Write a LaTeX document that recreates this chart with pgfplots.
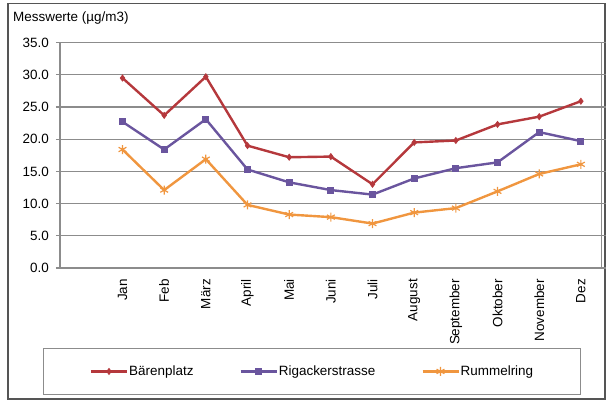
\documentclass[border=0pt]{standalone}
\usepackage{pgfplots}
\pgfplotsset{compat=1.18}
\usepackage{fontspec}
\setmainfont{Liberation Sans}

\definecolor{baeren}{HTML}{B5383C}
\definecolor{rigacker}{HTML}{6A559E}
\definecolor{rummel}{HTML}{F0963F}
\definecolor{gridgray}{HTML}{8C8C8C}
\definecolor{framegray}{HTML}{555555}

% Monatsmittel pro Messstation (Index 0 = Jan ... 11 = Dez)
\pgfplotstableread{
m   baeren  rigacker  rummel
0   29.5    22.7      18.4
1   23.7    18.4      12.1
2   29.7    23.1      16.9
3   19.0    15.3       9.8
4   17.2    13.3       8.3
5   17.3    12.1       7.9
6   13.0    11.4       6.9
7   19.5    13.9       8.6
8   19.8    15.5       9.3
9   22.3    16.4      11.9
10  23.5    21.1      14.6
11  25.9    19.7      16.1
}\messwerte

\begin{document}
\begin{tikzpicture}
\useasboundingbox (-60bp,-133bp) rectangle (546bp,268bp);
% Rahmen um die ganze Grafik
\draw[framegray, line width=1.5bp] (-52bp,264.5bp) rectangle (545bp,-131bp);
\begin{axis}[
  at={(0bp,0bp)}, anchor=south west,
  scale only axis,
  width=541.7bp, height=225.4bp,
  xmin=-1.5, xmax=11.5,
  ymin=0, ymax=35,
  ytick={0,5,...,35},
  xtick={0,...,11},
  xticklabels={Jan,Feb,März,April,Mai,Juni,Juli,August,September,Oktober,November,Dez},
  xticklabel style={rotate=90, anchor=east, inner sep=0pt},
  xticklabel shift=7bp,
  x tick style={draw=none},
  yticklabel style={inner sep=0pt},
  yticklabel shift=7bp,
  y tick style={gridgray, line width=1.2bp},
  tick align=outside,
  major tick length=4bp,
  ymajorgrids,
  major grid style={gridgray, line width=1.2bp},
  axis line style={gridgray, line width=1.2bp},
  ticklabel style={font=\fontsize{13.5}{15}\selectfont},
  /pgf/number format/.cd, fixed, fixed zerofill, precision=1, assume math mode=true,
  /pgfplots/.cd,
  clip=false,
  legend columns=3,
  legend style={
    at={(axis description cs:0.4652,-0.459)}, anchor=center,
    draw=gridgray, line width=1bp,
    inner xsep=46bp, inner ysep=16bp,
    font=\fontsize{13.5}{15}\selectfont,
    nodes={inner sep=1bp},
    /tikz/every even column/.append style={column sep=45bp},
  },
  legend image code/.code={%
    \draw[mark repeat=2, mark phase=2, #1] plot coordinates {(0bp,0bp) (18bp,0bp) (36bp,0bp)};},
  every axis plot/.append style={line width=2.4bp},
]
\addplot[baeren, mark=diamond*, mark size=3bp, mark options={line width=0.8bp}]
  table[x=m, y=baeren] {\messwerte};
\addlegendentry{Bärenplatz}
\addplot[rigacker, mark=square*, mark size=3bp, mark options={line width=0.8bp}]
  table[x=m, y=rigacker] {\messwerte};
\addlegendentry{Rigackerstrasse}
\addplot[rummel, mark=asterisk, mark size=4.5bp, mark options={line width=1.2bp}]
  table[x=m, y=rummel] {\messwerte};
\addlegendentry{Rummelring}
\node[anchor=west, inner sep=0pt, font=\fontsize{13.5}{15}\selectfont]
  at (axis description cs:-0.0868,1.1093) {Messwerte (µg/m3)};
\end{axis}
\end{tikzpicture}
\end{document}
